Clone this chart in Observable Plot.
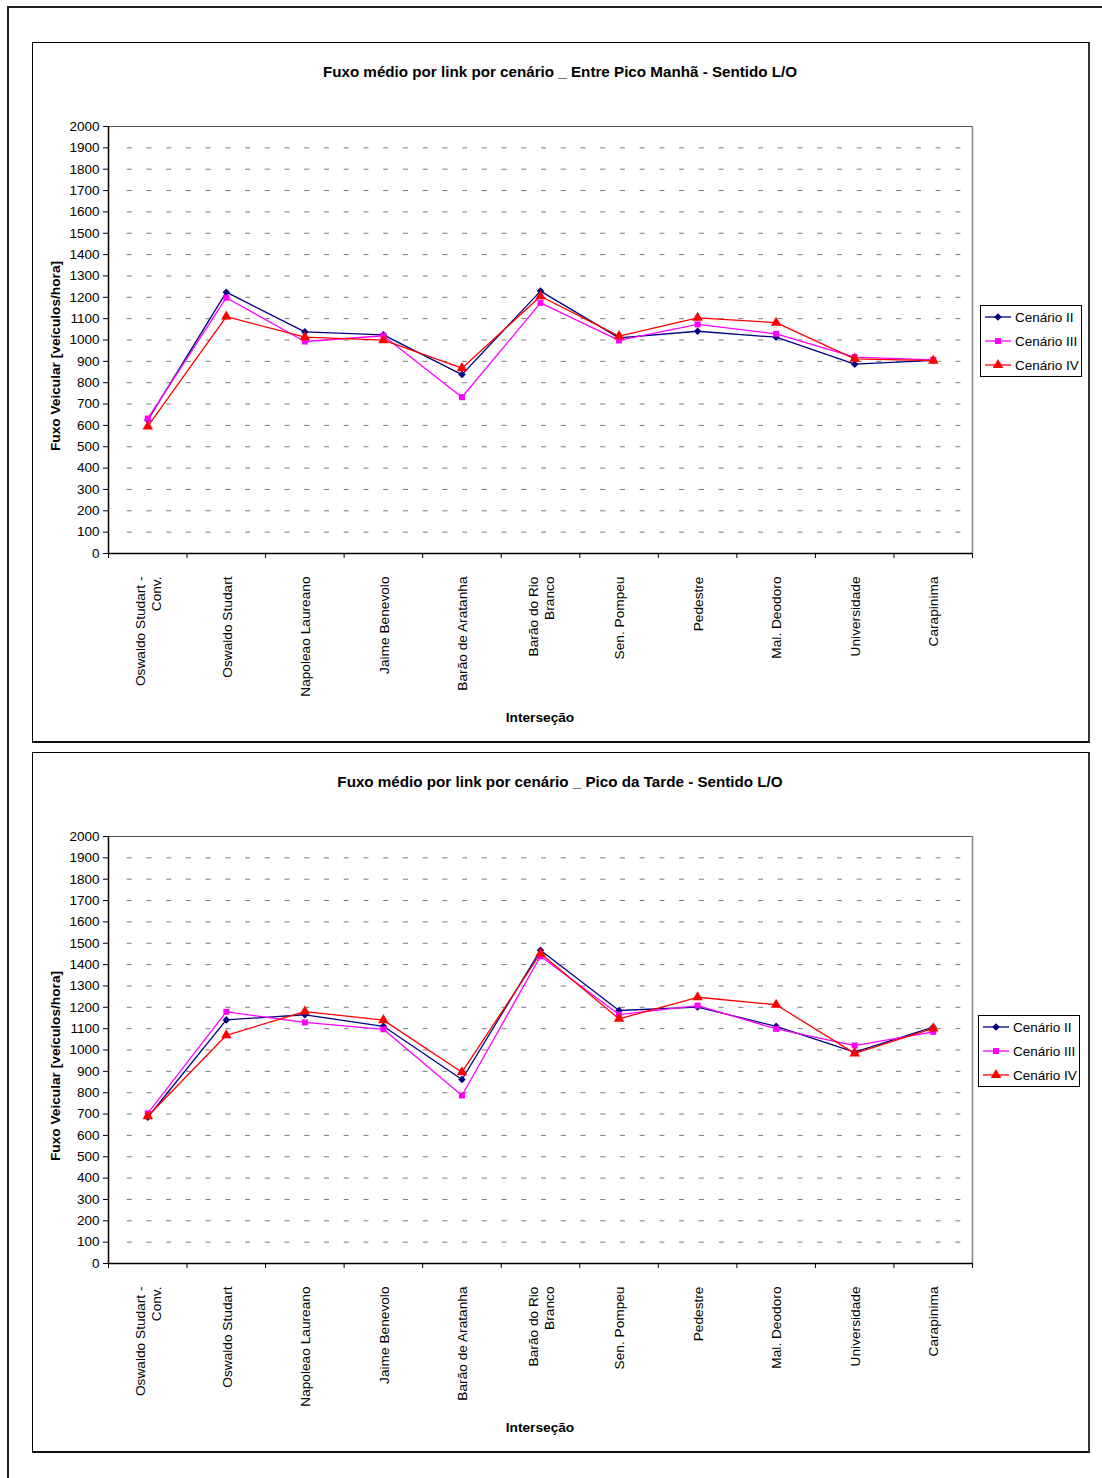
<!DOCTYPE html>
<html>
<head>
<meta charset="utf-8">
<script src="https://cdn.jsdelivr.net/npm/d3@7"></script>
<script src="https://cdn.jsdelivr.net/npm/@observablehq/plot@0.6"></script>
<style>
  html, body { margin: 0; padding: 0; background: #fff; overflow: hidden; }
  #page { position: relative; width: 1102px; height: 1478px; overflow: hidden; background: #fff;
          font-family: Arial, "Liberation Sans", sans-serif; }
  .outer { position: absolute; left: 7px; top: 6px; width: 1120px; height: 1500px; border: 2px solid #222; box-sizing: border-box; }
  .box { position: absolute; border: 1px solid #000; border-right: 2px solid #333; border-bottom: 2px solid #111; box-sizing: border-box; background: #fff; }
  .title { position: absolute; text-align: center; font-weight: bold; font-size: 15.2px; line-height: 16px; color: #000; }
  .ylab { position: absolute; font-weight: bold; font-size: 13.7px; white-space: nowrap; transform: translate(-50%, -50%) rotate(-90deg); color: #000; }
  .xlab { position: absolute; font-weight: bold; font-size: 13.7px; white-space: nowrap; transform: translate(-50%, -50%); color: #000; }
  .legend { position: absolute; border: 1px solid #000; background: #fff; box-sizing: border-box; }
  .legrow { position: absolute; left: 4px; height: 16px; display: flex; align-items: center; font-size: 13.5px; white-space: nowrap; }
  .legrow svg { margin-right: 4px; }
  .chart { position: absolute; }
</style>
</head>
<body>
<div id="page"><div class="outer"></div></div>
<script>
// ---------- data ----------
const categories = [
  "Oswaldo Studart -\nConv.", "Oswaldo Studart", "Napoleao Laureano", "Jaime Benevolo",
  "Barão de Aratanha", "Barão do Rio\nBranco", "Sen. Pompeu", "Pedestre",
  "Mal. Deodoro", "Universidade", "Carapinima"
];
const seriesNames = ["Cenário II", "Cenário III", "Cenário IV"];
const seriesColors = ["#000080", "#FF00FF", "#FF0000"];
const seriesSymbols = ["diamond2", "square", "triangle"];
const seriesSizes = [3.4, 3.4, 3.9];

// Entre Pico Manhã - Sentido L/O
const manhaII  = [625, 1224, 1038, 1024, 838, 1229, 1010, 1041, 1013, 887, 905];
const manhaIII = [632, 1198, 993, 1020, 732, 1174, 998, 1073, 1029, 920, 907];
const manhaIV  = [595, 1110, 1013, 999, 868, 1205, 1018, 1104, 1081, 912, 903];

// Pico da Tarde - Sentido L/O
const tardeII  = [685, 1141, 1165, 1111, 862, 1467, 1185, 1201, 1111, 990, 1107];
const tardeIII = [703, 1179, 1129, 1097, 787, 1439, 1166, 1208, 1099, 1021, 1085];
const tardeIV  = [690, 1069, 1180, 1140, 896, 1452, 1146, 1247, 1212, 984, 1101];

const yTicks = [0, 100, 200, 300, 400, 500, 600, 700, 800, 900, 1000,
                1100, 1200, 1300, 1400, 1500, 1600, 1700, 1800, 1900, 2000];

const titles = [
  "Fuxo médio por link por cenário _ Entre Pico Manhã - Sentido L/O",
  "Fuxo médio por link por cenário _ Pico da Tarde - Sentido L/O"
];
const yLabel = "Fuxo Veicular [veículos/hora]";
const xLabel = "Interseção";

// ---------- drawing ----------
const page = document.getElementById("page");
const n = categories.length;
const yMax = yTicks[yTicks.length - 1];
const gridTicks = yTicks.filter(t => t > 0 && t < yMax);

function makeChart(seriesValues, title, boxTop, legendLeft, legendTop) {
  const box = document.createElement("div");
  box.className = "box";
  Object.assign(box.style, {left: "32px", top: boxTop + "px", width: "1058px", height: "701px"});
  page.appendChild(box);

  const rows = [];
  seriesValues.forEach((vals, s) => vals.forEach((v, i) => rows.push({i, v, s})));

  const marks = [
    Plot.ruleY(gridTicks, {stroke: "#7a7a7a", strokeWidth: 1, strokeDasharray: "5,14.73", insetLeft: 18.7}),
    Plot.ruleY([yMax], {stroke: "#555", strokeWidth: 1.2}),
    Plot.ruleX([n], {stroke: "#888", strokeWidth: 1.5}),
    Plot.axisY({ticks: yTicks, tickSize: 5, tickPadding: 4, fontSize: 13.5, label: null, stroke: "#000", color: "#000",
                tickFormat: d => String(d)}),
    Plot.axisX({ticks: d3.range(n + 1), tickSize: 5, tickFormat: () => "", label: null, stroke: "#000"}),
    Plot.ruleX([0], {stroke: "#000", strokeWidth: 1.5}),
    Plot.ruleY([0], {stroke: "#000", strokeWidth: 1.5}),
    Plot.text(categories, {x: (d, i) => i + 0.5, text: d => d, frameAnchor: "bottom", dy: 23,
                           rotate: -90, textAnchor: "end", lineAnchor: "middle", fontSize: 13.7, fill: "#000", lineHeight: 1.2})
  ];
  seriesValues.forEach((vals, s) => {
    const d = rows.filter(r => r.s === s);
    marks.push(Plot.line(d, {x: r => r.i + 0.5, y: "v", stroke: seriesColors[s], strokeWidth: 1.3}));
    marks.push(Plot.dot(d, {x: r => r.i + 0.5, y: "v", symbol: seriesSymbols[s], r: seriesSizes[s], fill: seriesColors[s], stroke: "none"}));
  });

  const chart = Plot.plot({
    width: 1056, height: 699,
    marginLeft: 76, marginRight: 116, marginTop: 84, marginBottom: 188,
    x: {type: "linear", domain: [0, n], axis: null},
    y: {domain: [0, yMax], axis: null},
    style: {background: "transparent", fontFamily: 'Arial, "Liberation Sans", sans-serif', overflow: "visible"},
    marks
  });
  chart.classList.add("chart");
  chart.style.left = "32px";
  chart.style.top = boxTop + "px";
  page.appendChild(chart);

  const t = document.createElement("div");
  t.className = "title";
  t.textContent = title;
  Object.assign(t.style, {left: "32px", width: "1056px", top: (boxTop + 22) + "px"});
  page.appendChild(t);

  const yl = document.createElement("div");
  yl.className = "ylab";
  yl.textContent = yLabel;
  Object.assign(yl.style, {left: "55px", top: (boxTop + 314) + "px"});
  page.appendChild(yl);

  const xl = document.createElement("div");
  xl.className = "xlab";
  xl.textContent = xLabel;
  Object.assign(xl.style, {left: "540px", top: (boxTop + 675) + "px"});
  page.appendChild(xl);

  const lg = document.createElement("div");
  lg.className = "legend";
  Object.assign(lg.style, {left: legendLeft + "px", top: legendTop + "px", width: "102px", height: "72px"});
  seriesNames.forEach((name, s) => {
    const row = document.createElement("div");
    row.className = "legrow";
    row.style.top = (3 + s * 24) + "px";
    const symType = {diamond2: d3.symbolDiamond2, square: d3.symbolSquare, triangle: d3.symbolTriangle}[seriesSymbols[s]];
    const path = d3.symbol(symType, Math.PI * seriesSizes[s] * seriesSizes[s])();
    row.innerHTML = `<svg width="26" height="16"><line x1="0" x2="26" y1="8" y2="8" stroke="${seriesColors[s]}" stroke-width="1.3"/>` +
      `<path transform="translate(13,8)" d="${path}" fill="${seriesColors[s]}"/></svg><span>${name}</span>`;
    lg.appendChild(row);
  });
  page.appendChild(lg);
}

makeChart([manhaII, manhaIII, manhaIV], titles[0], 42, 980, 305);
makeChart([tardeII, tardeIII, tardeIV], titles[1], 752, 978, 1015);
</script>
</body>
</html>
